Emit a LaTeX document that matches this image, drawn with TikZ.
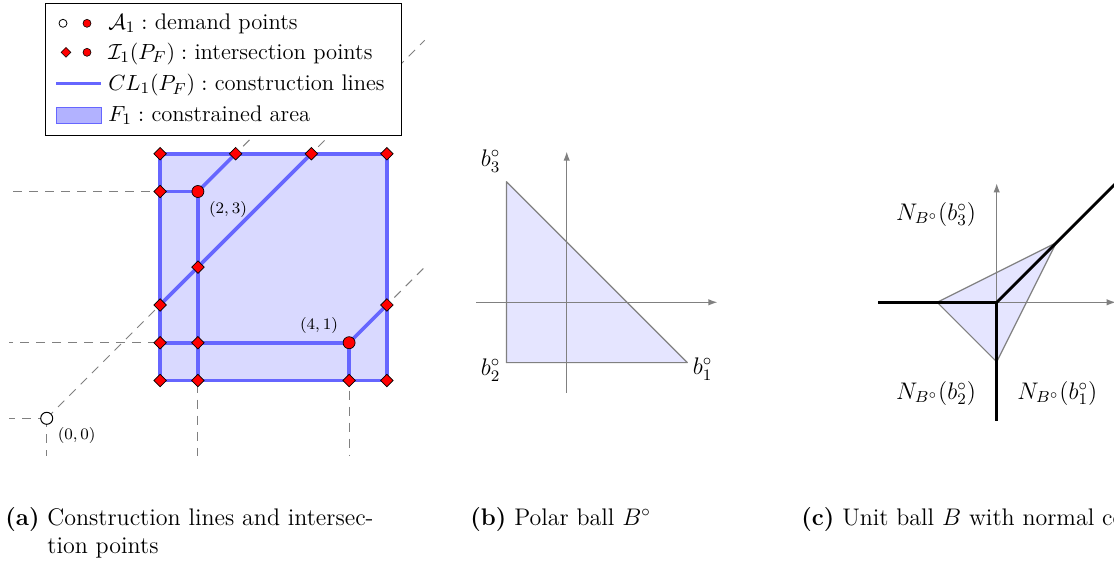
\documentclass[tikz,border=0pt]{standalone}
\usetikzlibrary{arrows.meta,shapes.geometric,calc}
\tikzset{
  dashedgray/.style={gray, line width=0.5pt, dash pattern=on 4.5pt off 3.5pt},
  cline/.style={draw=blue!60, line width=1.8pt, line cap=round, line join=round},
  ipt/.style={shape=diamond, draw=black, fill=red, line width=0.35pt, inner sep=0pt, minimum size=6.4pt},
  dpt/.style={shape=circle, draw=black, fill=red, line width=0.35pt, inner sep=0pt, minimum size=6pt},
  opt/.style={shape=circle, draw=black, fill=white, line width=0.5pt, inner sep=0pt, minimum size=6pt},
  lipt/.style={shape=diamond, draw=black, fill=red, line width=0.3pt, inner sep=0pt, minimum size=5pt},
  ldpt/.style={shape=circle, draw=black, fill=red, line width=0.3pt, inner sep=0pt, minimum size=4pt},
  lopt/.style={shape=circle, draw=black, fill=white, line width=0.4pt, inner sep=0pt, minimum size=4pt},
  legtext/.style={anchor=base west, inner sep=0pt, font=\fontsize{11.3}{13}\selectfont},
  captext/.style={anchor=base west, inner sep=0pt, font=\fontsize{12}{14}\selectfont},
  ptlab/.style={inner sep=0pt, font=\fontsize{8.5}{10}\selectfont},
  blab/.style={inner sep=0pt, font=\fontsize{12}{14}\selectfont},
  nlab/.style={inner sep=0pt, font=\fontsize{11.5}{13}\selectfont},
  axis/.style={gray, line width=0.6pt, -{Latex[length=4.5pt,width=3.2pt]}},
  ballfill/.style={fill=blue!10},
  balledge/.style={draw=gray, line width=0.6pt, line join=round},
  ncone/.style={black, line width=1.4pt},
}
\begin{document}
\begin{tikzpicture}[x=0.5pt,y=-0.5pt]
\useasboundingbox (0,0) rectangle (1114,575);
\clip (0,0) rectangle (1114,575);

% ---------------- panel (a) ----------------
\begin{scope}[shift={(46.7,418.3)}, x=37.8pt, y=37.8pt]
  \coordinate (o) at (0,0);
  \coordinate (p1) at (2,3);
  \coordinate (p2) at (4,1);
  % dashed construction rays
  \draw[dashedgray] (o) -- (-0.5,0);
  \draw[dashedgray] (o) -- (0,-0.5);
  \draw[dashedgray] (o) -- (5,5);
  \draw[dashedgray] (p1) -- (-0.5,3);
  \draw[dashedgray] (p1) -- (2,-0.5);
  \draw[dashedgray] (p1) -- (4,5);
  \draw[dashedgray] (p2) -- (-0.5,1);
  \draw[dashedgray] (p2) -- (4,-0.5);
  \draw[dashedgray] (p2) -- (5,2);
  % constrained area
  \fill[blue!15] (1.5,0.5) rectangle (4.5,3.5);
  % construction lines
  \draw[cline] (1.5,0.5) rectangle (4.5,3.5);
  \draw[cline] (p1) -- (1.5,3);
  \draw[cline] (p1) -- (2,0.5);
  \draw[cline] (p1) -- (2.5,3.5);
  \draw[cline] (p2) -- (1.5,1);
  \draw[cline] (p2) -- (4,0.5);
  \draw[cline] (p2) -- (4.5,1.5);
  \draw[cline] (1.5,1.5) -- (3.5,3.5);
  % intersection points
  \foreach \q [count=\i] in {(1.5,3.5),(2.5,3.5),(3.5,3.5),(4.5,3.5),(1.5,3),(2,2),(1.5,1.5),(4.5,1.5),(1.5,1),(2,1),(1.5,0.5),(2,0.5),(4,0.5),(4.5,0.5)}
    \node[ipt] (d\i) at \q {};
  % demand points
  \node[opt] (a0) at (o) {};
  \node[dpt] (a1) at (p1) {};
  \node[dpt] (a2) at (p2) {};
\end{scope}
\node[ptlab] (l0) at (76.7,435) {$(0,0)$};
\node[ptlab] (l1) at (228,209) {$(2,3)$};
\node[ptlab] (l2) at (319,325) {$(4,1)$};

% legend
\draw[fill=white, line width=0.5pt] (45.7,3.3) rectangle (401.7,135);
\node[lopt] (lg1a) at (63,23.3) {};
\node[ldpt] (lg1b) at (87,23.3) {};
\node[lipt] (lg2a) at (66,52.3) {};
\node[ldpt] (lg2b) at (87,52.3) {};
\coordinate (lg3a) at (56,83.3);
\coordinate (lg3b) at (101,83.3);
\draw[draw=blue!60, line width=1.8pt] (lg3a) -- (lg3b);
\draw[fill=blue!30, draw=blue!60, line width=0.5pt] (56,107) rectangle (101,123);
\node[legtext] (t1) at (108,29.3) {$\mathcal{A}_1:$ demand points};
\node[legtext] (t2) at (108,59.3) {$\mathcal{I}_1(P_F):$ intersection points};
\node[legtext] (t3) at (108,90.7) {$CL_1(P_F):$ construction lines};
\node[legtext] (t4) at (108,121.7) {$F_1:$ constrained area};

% ---------------- panel (b) ----------------
\begin{scope}[shift={(566.7,302.3)}, x=30.15pt, y=30.15pt]
  \coordinate (b1) at (2,-1);
  \coordinate (b2) at (-1,-1);
  \coordinate (b3) at (-1,2);
  \fill[ballfill] (b1) -- (b2) -- (b3) -- cycle;
  \draw[axis] (-1.5,0) -- (2.5,0);
  \draw[axis] (0,-1.5) -- (0,2.5);
  \draw[balledge] (b1) -- (b2) -- (b3) -- cycle;
\end{scope}
\node[blab] (lb3) at (490.7,160.7) {$b_3^\circ$};
\node[blab] (lb2) at (490.7,370) {$b_2^\circ$};
\node[blab] (lb1) at (702.5,369) {$b_1^\circ$};

% ---------------- panel (c) ----------------
\begin{scope}[shift={(996.7,302.3)}, x=29.75pt, y=29.75pt]
  \coordinate (c0) at (0,0);
  \coordinate (u1) at (1,1);
  \coordinate (u2) at (-1,0);
  \coordinate (u3) at (0,-1);
  \fill[ballfill] (u1) -- (u2) -- (u3) -- cycle;
  \draw[axis] (-2,0) -- (2,0);
  \draw[axis] (0,-2) -- (0,2);
  \draw[balledge] (u1) -- (u2) -- (u3) -- cycle;
  \draw[ncone] (c0) -- (-2,0);
  \draw[ncone] (c0) -- (0,-2);
  \draw[ncone] (c0) -- (2,2);
\end{scope}
\node[nlab] (n3) at (936,214) {$N_{B^\circ}(b_3^\circ)$};
\node[nlab] (n2) at (936,393) {$N_{B^\circ}(b_2^\circ)$};
\node[nlab] (n1) at (1057.3,393) {$N_{B^\circ}(b_1^\circ)$};

% ---------------- captions ----------------
\node[captext] (ca) at (5,525) {\textbf{(a)}};
\node[captext] (ca1) at (47,525) {Construction lines and intersec-};
\node[captext] (ca2) at (47,553) {tion points};
\node[captext] (cb) at (470,525) {\textbf{(b)} Polar ball $B^\circ$};
\node[captext] (cc) at (801,525) {\textbf{(c)} Unit ball $B$ with normal cones};
\end{tikzpicture}
\end{document}
